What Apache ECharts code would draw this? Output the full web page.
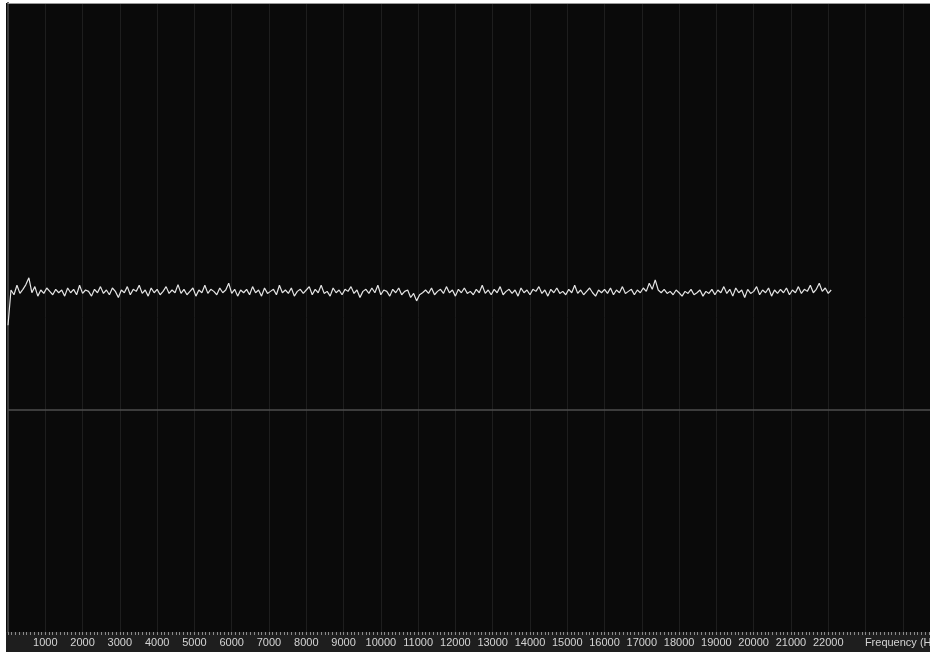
<!DOCTYPE html>
<html>
<head>
<meta charset="utf-8">
<script src="https://cdn.jsdelivr.net/npm/echarts@6/dist/echarts.min.js"></script>
<style>
  html, body { margin: 0; padding: 0; background: #ffffff; }
  #chart { position: absolute; left: 0; top: 0; width: 930px; height: 652px; }
</style>
</head>
<body>
<div id="chart"></div>
<script>
// Spectrum analysis: level (dB) per FFT bin, bins spaced 80 Hz apart
const binWidthHz = 80;
const levelsDb = [
  -47.5,-42.3,-43.0,-41.6,-42.8,-42.2,-41.5,-40.5,-42.7,-41.8,-43.2,-42.3,-42.8,-42.0,-42.5,-43.0,-42.2,-42.7,-42.3,-43.2,
  -42.0,-42.7,-42.2,-43.0,-41.6,-42.8,-42.3,-42.5,-43.2,-42.2,-42.7,-41.8,-42.8,-42.3,-43.0,-42.0,-42.5,-43.4,-42.3,-42.7,
  -41.8,-43.0,-42.2,-42.5,-41.6,-42.8,-42.3,-43.2,-42.0,-42.7,-42.2,-43.0,-42.5,-41.8,-42.8,-42.3,-42.7,-41.5,-42.8,-42.2,
  -43.0,-42.5,-42.0,-43.2,-42.3,-42.7,-41.6,-42.8,-42.2,-42.5,-43.0,-42.0,-42.7,-42.3,-41.3,-42.8,-42.2,-43.2,-42.3,-42.7,
  -42.2,-43.0,-41.8,-42.7,-42.3,-43.2,-42.0,-42.8,-42.5,-42.2,-43.0,-41.6,-42.7,-42.3,-42.8,-42.0,-43.2,-42.5,-42.2,-42.8,
  -42.3,-41.8,-43.0,-42.2,-42.7,-41.6,-42.8,-42.5,-43.2,-42.0,-42.7,-42.3,-43.0,-42.2,-42.5,-41.8,-42.8,-42.3,-43.4,-42.5,
  -42.2,-42.8,-42.0,-42.7,-41.6,-43.0,-42.3,-42.5,-43.2,-42.2,-42.7,-42.0,-43.0,-42.5,-42.3,-43.4,-42.8,-43.9,-43.0,-42.7,
  -42.3,-42.8,-42.0,-43.0,-42.5,-42.2,-42.8,-41.8,-42.7,-42.3,-43.2,-42.2,-42.7,-42.0,-42.8,-42.5,-43.0,-42.2,-42.7,-41.6,
  -42.8,-42.3,-43.0,-42.2,-42.7,-41.8,-43.0,-42.5,-42.2,-42.8,-42.3,-43.2,-42.0,-42.7,-42.3,-43.0,-42.2,-42.5,-41.8,-42.8,
  -42.3,-43.2,-42.2,-42.7,-42.0,-42.8,-42.5,-43.0,-42.2,-42.7,-41.6,-42.8,-42.3,-43.0,-42.5,-42.0,-42.7,-43.2,-42.3,-42.7,
  -42.2,-42.8,-42.0,-43.0,-42.3,-42.7,-41.8,-42.8,-42.5,-42.2,-43.0,-42.3,-42.7,-42.0,-42.5,-41.3,-42.2,-40.8,-42.3,-42.7,
  -42.2,-42.8,-42.5,-43.0,-42.3,-42.7,-43.2,-42.5,-42.8,-42.2,-43.0,-42.7,-42.3,-43.2,-42.5,-42.8,-42.2,-43.0,-42.3,-42.7,
  -41.8,-42.8,-42.2,-43.2,-42.0,-42.7,-42.3,-43.4,-42.2,-42.8,-42.5,-41.8,-43.0,-42.3,-42.7,-42.0,-43.2,-42.3,-42.8,-42.2,
  -42.7,-42.0,-43.0,-42.3,-42.7,-41.8,-42.8,-42.2,-42.5,-41.6,-42.7,-42.2,-41.3,-42.5,-42.0,-42.8,-42.3
];

// Frequency axis
const freqMin = 0;
const freqMax = 24730;
const freqStep = 1000;
const freqFineStep = 100;
const freqTickLabels = [
  '', '1000', '2000', '3000', '4000', '5000', '6000', '7000', '8000', '9000',
  '10000', '11000', '12000', '13000', '14000', '15000', '16000', '17000', '18000',
  '19000', '20000', '21000', '22000', '', 'Frequency (Hz)'
];

// Level axis and reference level
const levelMin = -92.7;
const levelMax = 0;
const referenceDb = -60;

const points = levelsDb.map((v, i) => [i * binWidthHz, v]);

const chart = echarts.init(document.getElementById('chart'), null, { renderer: 'canvas' });

chart.setOption({
  backgroundColor: 'transparent',
  animation: false,
  graphic: [
    // plot background and label strip under it
    { type: 'rect', z: -20, silent: true, shape: { x: 6, y: 3, width: 924, height: 629 }, style: { fill: '#0a0a0a' } },
    { type: 'rect', z: -10, silent: true, shape: { x: 6, y: 632, width: 924, height: 20 }, style: { fill: '#1e1e1e' } }
  ],
  grid: {
    left: 8, right: 0, top: 3, bottom: 20,
    outerBoundsMode: 'none',
    containLabel: false,
    show: false
  },
  xAxis: [{
    type: 'value',
    min: freqMin, max: freqMax, interval: freqStep,
    axisLine: { show: true, lineStyle: { color: '#9a9a9a', width: 1 } },
    axisTick: { show: false },
    minorTick: { show: false },
    axisLabel: {
      color: '#d4d4d4', fontSize: 11, fontFamily: 'Liberation Sans, Arial, sans-serif',
      margin: 5, showMinLabel: true, showMaxLabel: true, hideOverlap: false,
      formatter: v => (v % freqStep === 0 ? (freqTickLabels[v / freqStep] || '') : '')
    },
    splitLine: { show: true, lineStyle: { color: '#1e1e1e', width: 1 } }
  }, {
    // fine 100 Hz ruler ticks along the bottom edge
    type: 'value', position: 'bottom',
    min: freqMin, max: freqMax, interval: freqFineStep,
    axisLine: { show: false },
    axisTick: { show: true, inside: false, length: 3, lineStyle: { color: '#8a8a8a', width: 1 } },
    axisLabel: { show: false },
    splitLine: { show: false }
  }],
  yAxis: {
    type: 'value',
    min: levelMin, max: levelMax,
    axisLine: { show: true, lineStyle: { color: '#3a3a3a', width: 2 } },
    axisTick: { show: false },
    minorTick: { show: false },
    axisLabel: { show: false },
    splitLine: { show: false }
  },
  series: [{
    type: 'line',
    xAxisIndex: 0,
    data: points,
    showSymbol: false,
    lineStyle: { color: '#e4e4e4', width: 1.2 },
    markLine: {
      silent: true,
      symbol: 'none',
      label: { show: false },
      lineStyle: { color: '#4e4e4e', width: 1.5, type: 'solid' },
      data: [{ yAxis: referenceDb }]
    }
  }]
});
</script>
</body>
</html>
